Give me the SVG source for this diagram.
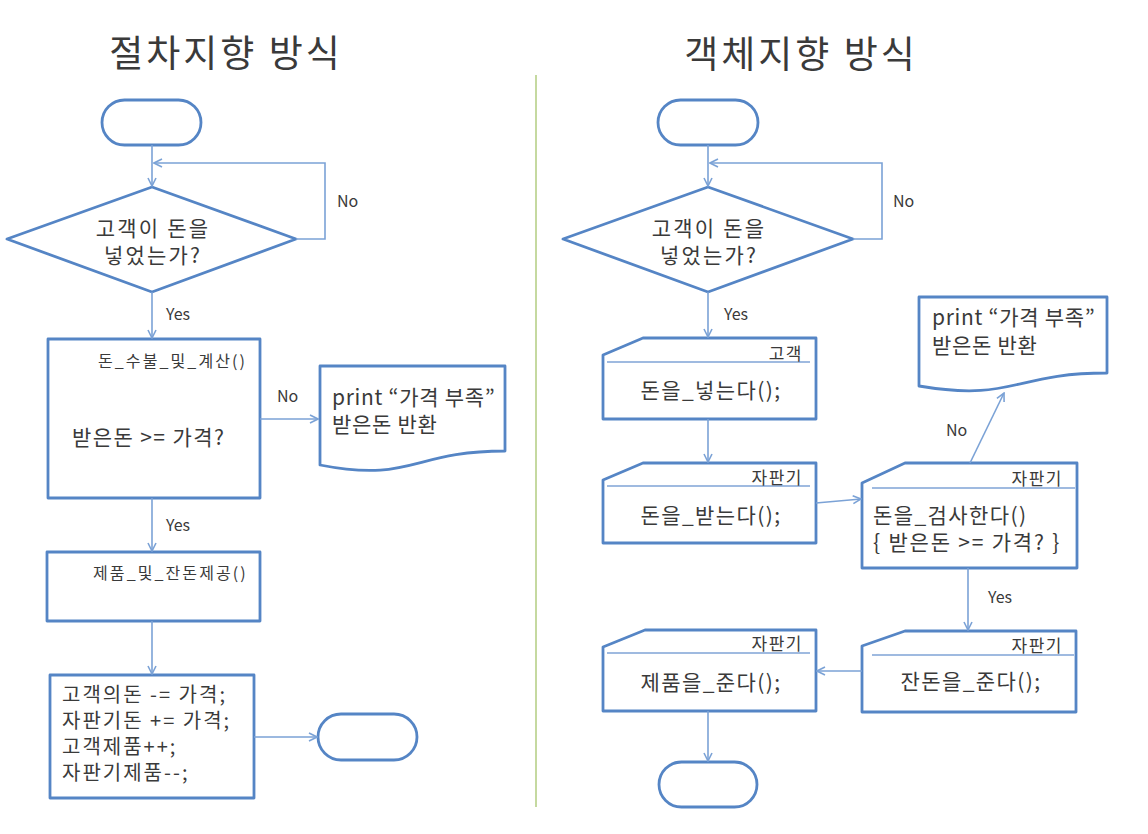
<svg xmlns="http://www.w3.org/2000/svg" width="1148" height="834" viewBox="0 0 1148 834">
<defs>
<style>
.shape{fill:#ffffff;stroke:#5585c5;stroke-width:2.8;stroke-linejoin:round}
.inner{fill:none;stroke:#7fa3d6;stroke-width:1.4}
.conn{fill:none;stroke:#7ba2d6;stroke-width:1.6}
text{font-family:"Noto Sans CJK KR","Noto Sans",sans-serif;fill:#3a3a3a}
.title{font-size:37px;text-anchor:middle;letter-spacing:3px}
.t21{font-size:21px;letter-spacing:1.4px}
.t20{font-size:20px;letter-spacing:2px}
.dia{font-size:21px;letter-spacing:2.2px;text-anchor:middle}
.t16{font-size:16px;letter-spacing:2.1px}
.lbl{font-size:16px}
.own{font-size:17px;text-anchor:end;letter-spacing:1.5px}
.mid{text-anchor:middle}
</style>
<marker id="arr" viewBox="0 0 10 10" refX="9" refY="5" markerWidth="10" markerHeight="10" markerUnits="userSpaceOnUse" orient="auto">
<path d="M1,1 L9,5 L1,9" fill="none" stroke="#7ba2d6" stroke-width="1.6"/>
</marker>
</defs>
<rect width="1148" height="834" fill="#ffffff"/>

<text class="title" x="226" y="67">절차지향 방식</text>
<text class="title" x="801" y="68">객체지향 방식</text>
<line x1="536" y1="75" x2="536" y2="807" stroke="#c5d9a0" stroke-width="2"/>

<!-- Left flow -->
<g id="L-start"><rect class="shape" x="102" y="100" width="99" height="45" rx="22.5"/></g>
<g id="L-decision">
<path class="shape" d="M152,187 L296,239 L152,292 L7,239 Z"/>
<text class="dia" x="153" y="236">고객이 돈을</text>
<text class="dia" x="153" y="263">넣었는가?</text>
</g>
<g id="L-calc">
<rect class="shape" x="48" y="339" width="212" height="159"/>
<text class="t16" x="98" y="367">돈_수불_및_계산()</text>
<text class="t21" x="72" y="445">받은돈 &gt;= 가격?</text>
</g>
<g id="L-doc">
<path class="shape" d="M320,366 H505 V451 C412,451 412,483 320,465 Z"/>
<text class="t21" x="332" y="405" style="letter-spacing:0.7px">print “가격 부족”</text>
<text class="t21" x="332" y="432" style="letter-spacing:0.7px">받은돈 반환</text>
</g>
<g id="L-provide">
<rect class="shape" x="47" y="552" width="213" height="69"/>
<text class="t16" x="93" y="579">제품_및_잔돈제공()</text>
</g>
<g id="L-update">
<rect class="shape" x="50" y="675" width="204" height="123"/>
<text class="t20" x="62" y="702">고객의돈 -= 가격;</text>
<text class="t20" x="62" y="728">자판기돈 += 가격;</text>
<text class="t20" x="62" y="754">고객제품++;</text>
<text class="t20" x="62" y="780">자판기제품--;</text>
</g>
<g id="L-end"><rect class="shape" x="318" y="714" width="99" height="46" rx="23"/></g>

<!-- Right flow -->
<g id="R-start"><rect class="shape" x="658" y="100" width="100" height="45" rx="22.5"/></g>
<g id="R-decision">
<path class="shape" d="M708,187 L853,239 L708,292 L563,239 Z"/>
<text class="dia" x="709" y="236">고객이 돈을</text>
<text class="dia" x="709" y="263">넣었는가?</text>
</g>
<g id="R-insert">
<path class="shape" d="M603,355 L643,338 H816 V419 H603 Z"/>
<line class="inner" x1="607" y1="362" x2="810" y2="362"/>
<text class="own" x="803" y="360">고객</text>
<text class="t21 mid" x="711" y="398">돈을_넣는다();</text>
</g>
<g id="R-receive">
<path class="shape" d="M603,480 L643,463 H816 V543 H603 Z"/>
<line class="inner" x1="607" y1="486" x2="810" y2="486"/>
<text class="own" x="803" y="484">자판기</text>
<text class="t21 mid" x="711" y="523">돈을_받는다();</text>
</g>
<g id="R-check">
<path class="shape" d="M862,483 L905,463 H1077 V568 H862 Z"/>
<line class="inner" x1="872" y1="488" x2="1075" y2="488"/>
<text class="own" x="1063" y="485">자판기</text>
<text class="t21" x="873" y="523">돈을_검사한다()</text>
<text class="t21" x="873" y="550" style="letter-spacing:1.8px">{ 받은돈 &gt;= 가격? }</text>
</g>
<g id="R-doc">
<path class="shape" d="M919,297 H1107 V373 C1013,373 1013,402 919,386 Z"/>
<text class="t21" x="932" y="325" style="letter-spacing:0.7px">print “가격 부족”</text>
<text class="t21" x="932" y="353" style="letter-spacing:0.7px">받은돈 반환</text>
</g>
<g id="R-change">
<path class="shape" d="M862,646 L905,631 H1076 V712 H862 Z"/>
<line class="inner" x1="872" y1="655" x2="1074" y2="655"/>
<text class="own" x="1063" y="652">자판기</text>
<text class="t21 mid" x="971" y="689">잔돈을_준다();</text>
</g>
<g id="R-product">
<path class="shape" d="M603,647 L645,630 H816 V711 H603 Z"/>
<line class="inner" x1="607" y1="653" x2="810" y2="653"/>
<text class="own" x="803" y="650">자판기</text>
<text class="t21 mid" x="711" y="690">제품을_준다();</text>
</g>
<g id="R-end"><rect class="shape" x="659" y="762" width="98" height="45" rx="22.5"/></g>

<!-- Connectors -->
<g id="connectors">
<path class="conn" marker-end="url(#arr)" d="M152,145 V186"/>
<path class="conn" marker-end="url(#arr)" d="M296,239 H325 V163 H154"/>
<path class="conn" marker-end="url(#arr)" d="M152,292 V338"/>
<path class="conn" marker-end="url(#arr)" d="M260,419 H318"/>
<path class="conn" marker-end="url(#arr)" d="M152,498 V551"/>
<path class="conn" marker-end="url(#arr)" d="M152,621 V674"/>
<path class="conn" marker-end="url(#arr)" d="M254,737 H317"/>

<path class="conn" marker-end="url(#arr)" d="M708,145 V186"/>
<path class="conn" marker-end="url(#arr)" d="M853,239 H882 V163 H710"/>
<path class="conn" marker-end="url(#arr)" d="M708,292 V337"/>
<path class="conn" marker-end="url(#arr)" d="M708,419 V462"/>
<path class="conn" marker-end="url(#arr)" d="M816,503 L861,499"/>
<path class="conn" marker-end="url(#arr)" d="M970,463 L1004,393"/>
<path class="conn" marker-end="url(#arr)" d="M968,568 V630"/>
<path class="conn" marker-end="url(#arr)" d="M862,671 H817"/>
<path class="conn" marker-end="url(#arr)" d="M708,711 V761"/>

<text class="lbl" x="337" y="207">No</text>
<text class="lbl" x="166" y="320">Yes</text>
<text class="lbl" x="277" y="402">No</text>
<text class="lbl" x="166" y="531">Yes</text>
<text class="lbl" x="893" y="207">No</text>
<text class="lbl" x="724" y="320">Yes</text>
<text class="lbl" x="946" y="436">No</text>
<text class="lbl" x="988" y="603">Yes</text>
</g>
</svg>
